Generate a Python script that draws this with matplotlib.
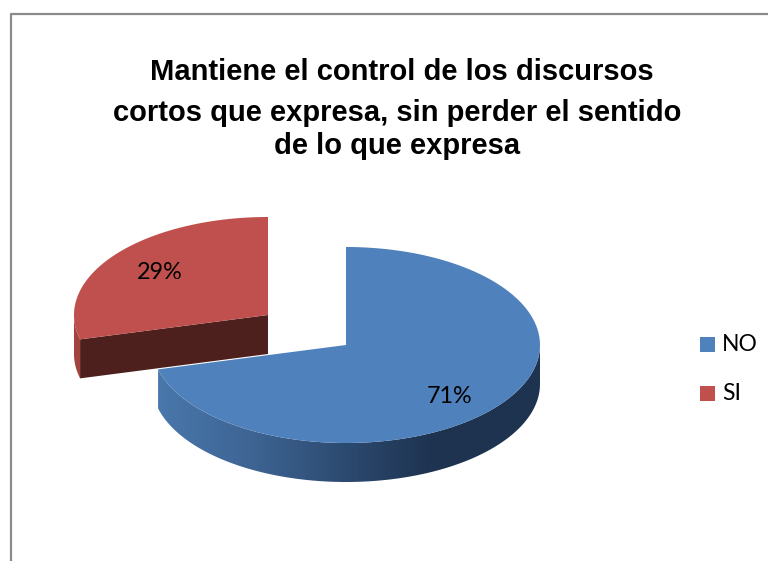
import numpy as np
import matplotlib
matplotlib.use('Agg')
import matplotlib.pyplot as plt
from matplotlib.colors import LinearSegmentedColormap
from matplotlib.patches import Polygon, Rectangle

title_lines = ['Mantiene el control de los discursos',
               'cortos que expresa, sin perder el sentido',
               'de lo que expresa']
labels = ['NO', 'SI']
values = [71, 29]
top_colors = ['#4f81bd', '#c0504d']

# pie geometry in pixels
rx, ry, depth = 194, 98, 39
cx_no, cy_no = 346, 345
cx_si, cy_si = 268, 315

fig = plt.figure(figsize=(7.68, 5.61), dpi=100)
ax = fig.add_axes([0, 0, 1, 1])
ax.set_xlim(0, 768)
ax.set_ylim(561, 0)
ax.axis('off')


def rim(cx, cy, a0, a1, dy=0):
    # angles clockwise from the top, in degrees
    t = np.radians(np.linspace(a0, a1, 200))
    return np.column_stack([cx + rx * np.sin(t), cy - ry * np.cos(t) + dy])


split = 360 * values[0] / sum(values)

# border of the chart area
ax.plot([10.5, 10.5, 768], [561, 13.5, 13.5], color='#8a8a8a', lw=1.6, solid_capstyle='butt')

# red slice, wall then cut face then top
upper = rim(cx_si, cy_si, split, 270)
lower = rim(cx_si, cy_si, split, 270, depth)
ax.add_patch(Polygon(np.vstack([upper, lower[::-1]]), fc='#a3433f', ec='none', zorder=2))
corner = rim(cx_si, cy_si, split, split)[0]
cut = [corner, [cx_si, cy_si], [cx_si, cy_si + depth], [corner[0], corner[1] + depth]]
ax.add_patch(Polygon(cut, fc='#4d1f1d', ec='none', zorder=3))
top = np.vstack([[[cx_si, cy_si]], rim(cx_si, cy_si, split, 360)])
ax.add_patch(Polygon(top, fc=top_colors[1], ec='none', zorder=4))

# blue slice, wall with a left to right gradient
upper = rim(cx_no, cy_no, 90, split)
lower = rim(cx_no, cy_no, 90, split, depth)
wall = Polygon(np.vstack([upper, lower[::-1]]), fc='none', ec='none', zorder=5)
ax.add_patch(wall)
shade = LinearSegmentedColormap.from_list(
    'shade', [(0, '#1e3350'), (0.28, '#1e3350'), (0.5, '#2c4a70'), (0.75, '#3e6594'), (1, '#4a78ad')])
grad = ax.imshow(np.linspace(0, 1, 256)[None, :], extent=[cx_no + rx, cx_no - rx, 500, 330],
                 cmap=shade, aspect='auto', zorder=5)
grad.set_clip_path(wall)
ax.set_xlim(0, 768)
ax.set_ylim(561, 0)
top = np.vstack([[[cx_no, cy_no]], rim(cx_no, cy_no, 0, split)])
ax.add_patch(Polygon(top, fc=top_colors[0], ec='none', zorder=6))

# title, each line sits on its own in the original
for line, x, y in zip(title_lines, [402, 397, 397], [72, 113, 146]):
    ax.text(x, y, line, ha='center', va='center', fontsize=21, fontweight='bold',
            family='Liberation Sans', zorder=8)

ax.text(450, 396, f'{values[0]}%', ha='center', va='center', fontsize=16.8, family='Lato', zorder=8)
ax.text(160, 272, f'{values[1]}%', ha='center', va='center', fontsize=16.8, family='Lato', zorder=8)

# legend
for name, color, y in zip(labels, top_colors, [344, 393]):
    ax.add_patch(Rectangle((700, y - 7.5), 15, 15, fc=color, ec='none', zorder=8))
    ax.text(722, y, name, ha='left', va='center', fontsize=16.5, family='Lato', zorder=8)

fig.savefig('out.png', dpi=100)
